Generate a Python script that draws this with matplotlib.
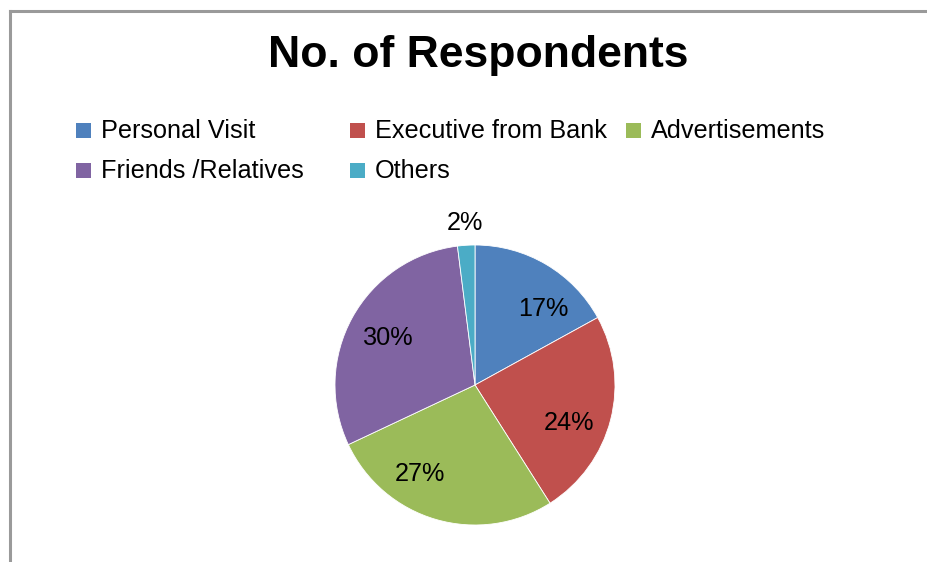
import matplotlib
matplotlib.use("Agg")
import matplotlib.pyplot as plt
from matplotlib.patches import Rectangle
import numpy as np

plt.rcParams['font.family'] = ['Liberation Sans', 'DejaVu Sans']

title = "No. of Respondents"
categories = ["Personal Visit", "Executive from Bank", "Advertisements",
              "Friends /Relatives", "Others"]
shares = [17, 24, 27, 30, 2]
colors = ["#4F81BD", "#C0504D", "#9BBB59", "#8064A2", "#4BACC6"]

# best-fit style shifts of the data labels, in pixels (dx right, dy up)
label_shift = [(17, -11), (-4, -13), (-27, 8), (2, -2), (0, 0)]

W, H = 928, 562
fig = plt.figure(figsize=(W / 100, H / 100), dpi=100)
fig.patch.set_facecolor("white")

# outer chart frame (top and left edges visible)
fig.add_artist(plt.Line2D([10 / W, 1], [1 - 11 / H, 1 - 11 / H],
                          transform=fig.transFigure, color="#9a9a9a", lw=2.2))
fig.add_artist(plt.Line2D([10 / W, 10 / W], [0, 1 - 11 / H],
                          transform=fig.transFigure, color="#9a9a9a", lw=2.2))

# title
fig.text(478 / W, 1 - 67 / H, title, ha="center", va="baseline",
         fontsize=32, fontweight="bold", color="black")

# legend laid out in rows like a spreadsheet chart
legend_slots = [(76, 138), (350, 138), (626, 138), (76, 178), (350, 178)]
box = 15
for (x, base), name, col in zip(legend_slots, categories, colors):
    fig.add_artist(Rectangle((x / W, 1 - base / H), box / W, box / H,
                             transform=fig.transFigure, facecolor=col,
                             edgecolor="none"))
    fig.text((x + box + 10) / W, 1 - base / H, name, ha="left",
             va="baseline", fontsize=18.2, color="black")

# pie
cx, cy, r = 475, 385, 140
ax = fig.add_axes([(cx - r) / W, (H - cy - r) / H, 2 * r / W, 2 * r / H])

wedges, _ = ax.pie(shares, colors=colors, startangle=90, counterclock=False,
                   radius=1, wedgeprops=dict(edgecolor="white", linewidth=0.6))
ax.set_xlim(-1, 1)
ax.set_ylim(-1, 1)
ax.set_aspect("equal")
ax.axis("off")

total = sum(shares)
for w, v, (dx, dy) in zip(wedges, shares, label_shift):
    mid = np.deg2rad((w.theta1 + w.theta2) / 2)
    d = 1.16 if v / total < 0.05 else 0.72
    ax.annotate(f"{v}%", (d * np.cos(mid), d * np.sin(mid)),
                xytext=(dx, dy), textcoords="offset pixels",
                ha="center", va="center", fontsize=18.2, color="black",
                annotation_clip=False)

fig.savefig("out.png", dpi=100, facecolor="white")
